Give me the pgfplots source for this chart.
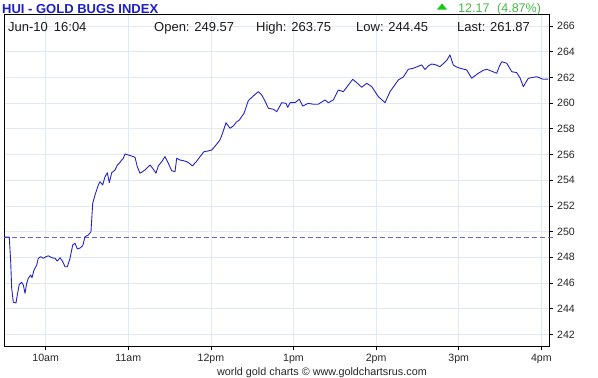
\documentclass[border=0pt]{standalone}
\usepackage{pgfplots}
\pgfplotsset{compat=1.18}
\usepackage{fontspec}
\setmainfont{Liberation Sans}
\definecolor{titleblue}{RGB}{30,30,200}
\definecolor{lineblue}{RGB}{35,35,200}
\definecolor{openline}{RGB}{110,100,210}
\definecolor{gridc}{RGB}{225,234,244}
\definecolor{upgreen}{RGB}{70,185,70}
\definecolor{tri}{RGB}{20,200,20}
\begin{document}
\begin{tikzpicture}
\begin{axis}[
  scale only axis,
  width=545bp, height=332bp,
  anchor=north west, at={(4bp,-14bp)},
  xmin=9.495, xmax=16.093,
  ymin=241.10, ymax=266.93,
  xtick={10,11,12,13,14,15,16},
  xticklabels={10am,11am,12pm,1pm,2pm,3pm,4pm},
  ytick={242,244,...,266},
  xtick pos=bottom, ytick pos=right, yticklabel pos=right,
  tick align=outside,
  major tick length=4bp,
  tick style={black, line width=0.6pt},
  grid=major,
  major grid style={gridc, line width=0.6pt},
  axis line style={black, line width=0.9pt},
  /pgf/number format/assume math mode=true,
  /pgf/number format/1000 sep={},
  yticklabel style={font=\fontsize{10.6bp}{12bp}\selectfont, text=black!85, anchor=west, inner sep=0pt, xshift=4bp},
  xticklabel style={font=\fontsize{10.6bp}{12bp}\selectfont, text=black!85, inner sep=0pt, yshift=-4bp},
  clip=false,
]
\addplot[openline, dash pattern=on 5bp off 3bp, line width=0.8pt] coordinates {(9.495,249.57) (16.093,249.57)};
\addplot[openline, line width=0.8pt] coordinates {(16.093,249.57) (16.14,249.57)};
\addplot[lineblue, line width=0.9pt, line join=round] table {
9.495 249.57
9.559 249.57
9.576 247.66
9.588 245.59
9.608 244.50
9.640 244.45
9.656 245.07
9.680 245.90
9.709 246.05
9.729 245.84
9.749 245.20
9.770 245.98
9.789 246.37
9.818 246.62
9.834 246.41
9.858 247.01
9.891 247.40
9.910 247.92
9.939 248.05
9.971 247.92
10.004 248.05
10.031 248.12
10.073 247.97
10.113 247.92
10.140 247.71
10.173 247.97
10.206 247.66
10.234 247.27
10.262 247.27
10.294 247.92
10.327 248.96
10.355 249.09
10.383 248.65
10.415 248.72
10.448 248.90
10.476 249.60
10.516 249.74
10.548 249.99
10.569 252.20
10.597 252.85
10.617 253.24
10.637 253.63
10.657 253.88
10.690 253.63
10.718 254.27
10.746 254.58
10.770 253.81
10.799 254.58
10.839 254.79
10.867 255.18
10.891 255.32
10.920 255.57
10.939 255.70
10.960 256.04
11.000 255.96
11.041 255.88
11.081 255.78
11.109 255.05
11.142 254.54
11.202 254.79
11.263 255.18
11.295 254.93
11.335 254.54
11.363 255.11
11.404 255.44
11.444 255.83
11.484 255.32
11.525 254.74
11.565 254.66
11.586 255.70
11.626 255.57
11.666 255.52
11.707 255.44
11.738 255.32
11.775 255.11
11.820 255.42
11.868 255.83
11.916 256.22
11.964 256.27
12.010 256.35
12.062 256.74
12.110 257.13
12.146 257.75
12.183 258.47
12.231 258.04
12.271 258.22
12.310 258.53
12.344 258.68
12.401 259.21
12.453 260.19
12.513 260.55
12.574 260.89
12.615 260.63
12.655 260.16
12.695 259.60
12.755 259.52
12.797 259.33
12.857 260.03
12.909 259.98
12.930 259.67
12.958 260.03
13.018 260.03
13.070 260.30
13.111 259.77
13.179 259.98
13.240 259.91
13.300 259.91
13.381 260.24
13.421 260.03
13.482 260.24
13.542 261.02
13.603 260.89
13.644 261.23
13.717 261.85
13.765 261.59
13.826 261.23
13.886 261.54
13.947 261.28
14.027 260.50
14.108 260.03
14.168 260.89
14.217 261.33
14.269 261.80
14.329 262.03
14.390 262.63
14.450 262.71
14.507 262.85
14.552 262.97
14.592 262.61
14.632 262.89
14.673 263.04
14.725 262.97
14.773 262.83
14.822 263.12
14.858 263.35
14.894 263.75
14.934 262.96
14.973 262.81
15.015 262.71
15.097 262.58
15.157 261.93
15.237 262.32
15.294 262.54
15.339 262.63
15.391 262.50
15.460 262.32
15.494 262.89
15.521 263.22
15.581 263.10
15.609 262.81
15.642 262.44
15.702 262.37
15.743 261.95
15.782 261.28
15.843 261.93
15.944 262.05
16.024 261.85
16.084 261.87
};
\end{axis}
\node[anchor=base west, inner sep=0pt, text=titleblue, font=\fontsize{13bp}{15bp}\selectfont\bfseries] at (2bp,-13.5bp) {HUI - GOLD BUGS INDEX};
\fill[tri] (437bp,-9.5bp) -- (447bp,-9.5bp) -- (442bp,-3.5bp) -- cycle;
\node[anchor=base west, inner sep=0pt, text=upgreen, font=\fontsize{12.5bp}{14bp}\selectfont] at (458bp,-12.5bp) {12.17};
\node[anchor=base west, inner sep=0pt, text=upgreen, font=\fontsize{12.5bp}{14bp}\selectfont] at (497bp,-12.5bp) {(4.87\%)};
\begin{scope}[every node/.style={anchor=base west, inner sep=0pt, text=black!90, font=\fontsize{13bp}{15bp}\selectfont}]
\node at (8bp,-31bp) {Jun-10\hspace{6bp}16:04};
\node at (154bp,-31bp) {Open: 249.57};
\node at (256bp,-31bp) {High: 263.75};
\node at (356bp,-31bp) {Low: 244.45};
\node at (457bp,-31bp) {Last: 261.87};
\end{scope}
\node[anchor=base, inner sep=0pt, text=black!85, font=\fontsize{10.8bp}{12bp}\selectfont] at (322bp,-375bp) {world gold charts © www.goldchartsrus.com};
\pgfresetboundingbox
\path (0,0) rectangle (598bp,-378bp);
\end{tikzpicture}
\end{document}
